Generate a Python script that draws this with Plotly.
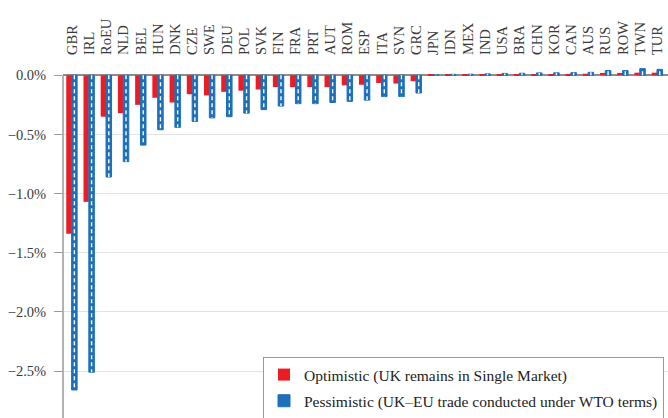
import plotly.graph_objects as go

# Regions, ordered as plotted
regions = ["GBR", "IRL", "RoEU", "NLD", "BEL", "HUN", "DNK", "CZE", "SWE", "DEU",
           "POL", "SVK", "FIN", "FRA", "PRT", "AUT", "ROM", "ESP", "ITA", "SVN",
           "GRC", "JPN", "IDN", "MEX", "IND", "USA", "BRA", "CHN", "KOR", "CAN",
           "AUS", "RUS", "ROW", "TWN", "TUR"]

# Change in welfare (%), optimistic scenario
optimistic = [-1.34, -1.07, -0.35, -0.32, -0.25, -0.19, -0.23, -0.16, -0.17, -0.14,
              -0.13, -0.12, -0.10, -0.10, -0.10, -0.10, -0.085, -0.08, -0.065, -0.07,
              -0.05, 0.003, 0.003, 0.004, 0.005, 0.006, 0.007, 0.010, 0.011, 0.012,
              0.013, 0.020, 0.020, 0.022, 0.022]

# Change in welfare (%), pessimistic scenario
pessimistic = [-2.66, -2.51, -0.86, -0.73, -0.59, -0.46, -0.44, -0.39, -0.36, -0.35,
               -0.32, -0.29, -0.26, -0.24, -0.24, -0.23, -0.22, -0.21, -0.18, -0.18,
               -0.15, 0.006, 0.008, 0.009, 0.012, 0.016, 0.017, 0.020, 0.021, 0.022,
               0.025, 0.040, 0.040, 0.056, 0.050]

y_ticks = [0.0, -0.5, -1.0, -1.5, -2.0, -2.5]
y_tick_labels = ["0.0%", "−0.5%", "−1.0%", "−1.5%", "−2.0%", "−2.5%"]

RED = "#ec1c24"
BLUE = "#1c6fb8"
SERIF = "Liberation Serif"

idx = list(range(len(regions)))
BLUE_OFFSET = -0.02
BLUE_WIDTH = 0.32

fig = go.Figure()
fig.add_trace(go.Bar(
    x=idx, y=optimistic, name="Optimistic (UK remains in Single Market)",
    offset=-0.33, width=0.31, legendgroup="opt",
    marker=dict(color=RED, line=dict(width=0)),
))
fig.add_trace(go.Bar(
    x=idx, y=pessimistic, name="Pessimistic (UK–EU trade conducted under WTO terms)",
    offset=BLUE_OFFSET, width=BLUE_WIDTH, legendgroup="pes",
    marker=dict(color=BLUE, line=dict(color=BLUE, width=1)),
))

# white dashed hatching down the middle of each pessimistic bar
hx, hy = [], []
for i, v in zip(idx, pessimistic):
    c = i + BLUE_OFFSET + BLUE_WIDTH / 2
    hx += [c, c, None]
    hy += [0, v, None]
fig.add_trace(go.Scatter(
    x=hx, y=hy, mode="lines", showlegend=False, hoverinfo="skip",
    line=dict(color="white", width=1.4, dash="4px,3px"),
))

ymin = -2.897
fig.add_shape(type="line", xref="paper", yref="y", x0=0, x1=0, y0=0, y1=ymin,
              line=dict(color="#9a9a9a", width=1.5), layer="above")

fig.update_layout(
    width=668, height=418,
    margin=dict(l=63, r=0, t=67, b=0, autoexpand=False),
    paper_bgcolor="white", plot_bgcolor="white",
    barmode="overlay",
    font=dict(family=SERIF, size=14, color="#3a3a3a"),
    showlegend=True,
    legend=dict(
        x=(263 - 63) / 605, y=(418 - 357) / 351,
        xanchor="left", yanchor="top",
        bgcolor="white", bordercolor="#9a9a9a", borderwidth=1,
        font=dict(family=SERIF, size=15.5, color="#222"),
        tracegroupgap=3, itemwidth=30,
    ),
    xaxis=dict(
        side="top", range=[-0.52, 34.62], automargin=False,
        tickmode="array", tickvals=idx, ticktext=regions, tickangle=-90,
        ticks="", showgrid=False, zeroline=False, showline=False,
        tickfont=dict(family=SERIF, size=14.5, color="#3a3a3a"),
        ticklabelstandoff=11,
    ),
    yaxis=dict(
        range=[ymin, 0.07], automargin=False,
        tickmode="array", tickvals=y_ticks, ticktext=y_tick_labels,
        ticks="outside", ticklen=8, tickcolor="#9a9a9a", tickwidth=1,
        showgrid=True, gridcolor="#e2e2e2", gridwidth=1.2,
        zeroline=True, zerolinecolor="#8c8c8c", zerolinewidth=1.5,
        showline=False, ticklabelstandoff=5,
        tickfont=dict(family=SERIF, size=14.5, color="#3a3a3a"),
    ),
)

fig.write_html("out.html")
